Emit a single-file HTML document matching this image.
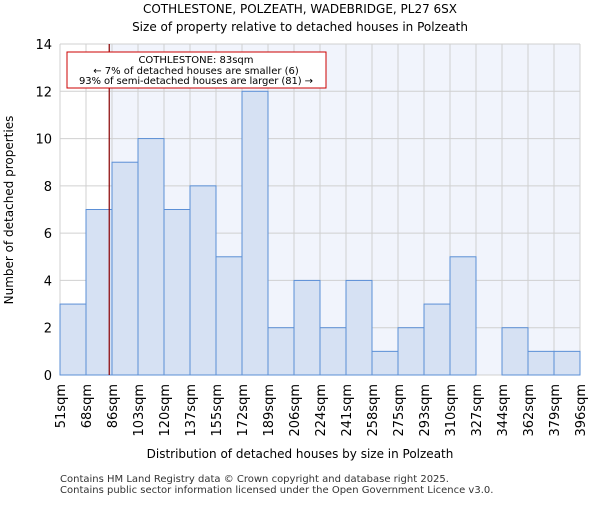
<!DOCTYPE html>
<html><head><meta charset="utf-8"><style>
body{margin:0;background:#fff;font-family:"Liberation Sans","DejaVu Sans",sans-serif}
</style></head><body>
<svg width="600" height="500" xmlns="http://www.w3.org/2000/svg" font-family="DejaVu Sans, Liberation Sans, sans-serif">
<text x="300" y="13" text-anchor="middle" font-size="12">COTHLESTONE, POLZEATH, WADEBRIDGE, PL27 6SX</text>
<text x="300" y="31" text-anchor="middle" font-size="12">Size of property relative to detached houses in Polzeath</text>
<g id="plot"></g>
<text x="300" y="458" text-anchor="middle" font-size="12">Distribution of detached houses by size in Polzeath</text>
<text transform="translate(13,210) rotate(-90)" text-anchor="middle" font-size="12">Number of detached properties</text>
<text x="60" y="482" font-size="10" fill="#333">Contains HM Land Registry data © Crown copyright and database right 2025.</text>
<text x="60" y="493" font-size="10" fill="#333">Contains public sector information licensed under the Open Government Licence v3.0.</text>
</svg>
<script>
const categories=["51sqm","68sqm","86sqm","103sqm","120sqm","137sqm","155sqm","172sqm","189sqm","206sqm","224sqm","241sqm","258sqm","275sqm","293sqm","310sqm","327sqm","344sqm","362sqm","379sqm","396sqm"];
const counts=[3,7,9,10,7,8,5,12,2,4,2,4,1,2,3,5,0,2,1,1];
const yTicks=[0,2,4,6,8,10,12,14];
const markerValue=83;
const binStart=51, binWidth=17.25;
const X0=60,X1=580,YT=44,YB=375,YMAX=14;
const n=counts.length, bw=(X1-X0)/n;
const xb=i=>X0+i*bw;
const xv=v=>X0+(v-binStart)/binWidth*bw;
const y=v=>YB-(v/YMAX)*(YB-YT);
const NS="http://www.w3.org/2000/svg";
const g=document.getElementById('plot');
function mk(t,a){const e=document.createElementNS(NS,t);for(const k in a)e.setAttribute(k,a[k]);g.appendChild(e);return e;}
const mx=xv(markerValue)+1;
let e=mk('rect',{x:X0,y:YT,width:mx-X0,height:YB-YT,fill:'#ffffff'});


e=mk('rect',{x:mx,y:YT,width:X1-mx,height:YB-YT,fill:'#f1f4fc'});


for(let i=0;i<=n;i++){e=mk('line',{x1:xb(i),x2:xb(i),y1:YT,y2:YB,stroke:'#d0d0d0','stroke-width':1});

}
yTicks.forEach(t=>{e=mk('line',{x1:X0,x2:X1,y1:y(t),y2:y(t),stroke:'#d0d0d0','stroke-width':1});


const tx=mk('text',{x:X0-8,y:y(t)+5,'text-anchor':'end','font-size':13});tx.textContent=t;

});
counts.forEach((c,i)=>{if(c<=0)return;e=mk('rect',{x:xb(i),y:y(c),width:bw,height:YB-y(c),fill:'#d6e1f3',stroke:'#5b8fd6','stroke-width':1});

});
categories.forEach((c,i)=>{const tx=mk('text',{transform:`translate(${xb(i)+5},384) rotate(-90)`,'text-anchor':'end','font-size':13});tx.textContent=c;

});
e=mk('line',{x1:mx,x2:mx,y1:YT,y2:YB,stroke:'#8b0000','stroke-width':1.2});


e=mk('rect',{x:67,y:52,width:259,height:36,fill:'#fff',stroke:'#cc0000','stroke-width':1});


[["COTHLESTONE: 83sqm",63],["← 7% of detached houses are smaller (6)",74],["93% of semi-detached houses are larger (81) →",84]].forEach(([s,yy])=>{const tx=mk('text',{x:196,y:yy,'text-anchor':'middle','font-size':10,textLength:s.length>40?234:0});tx.textContent=s;
if(s.length<=40)tx.removeAttribute('textLength');

});
</script>
</body></html>
